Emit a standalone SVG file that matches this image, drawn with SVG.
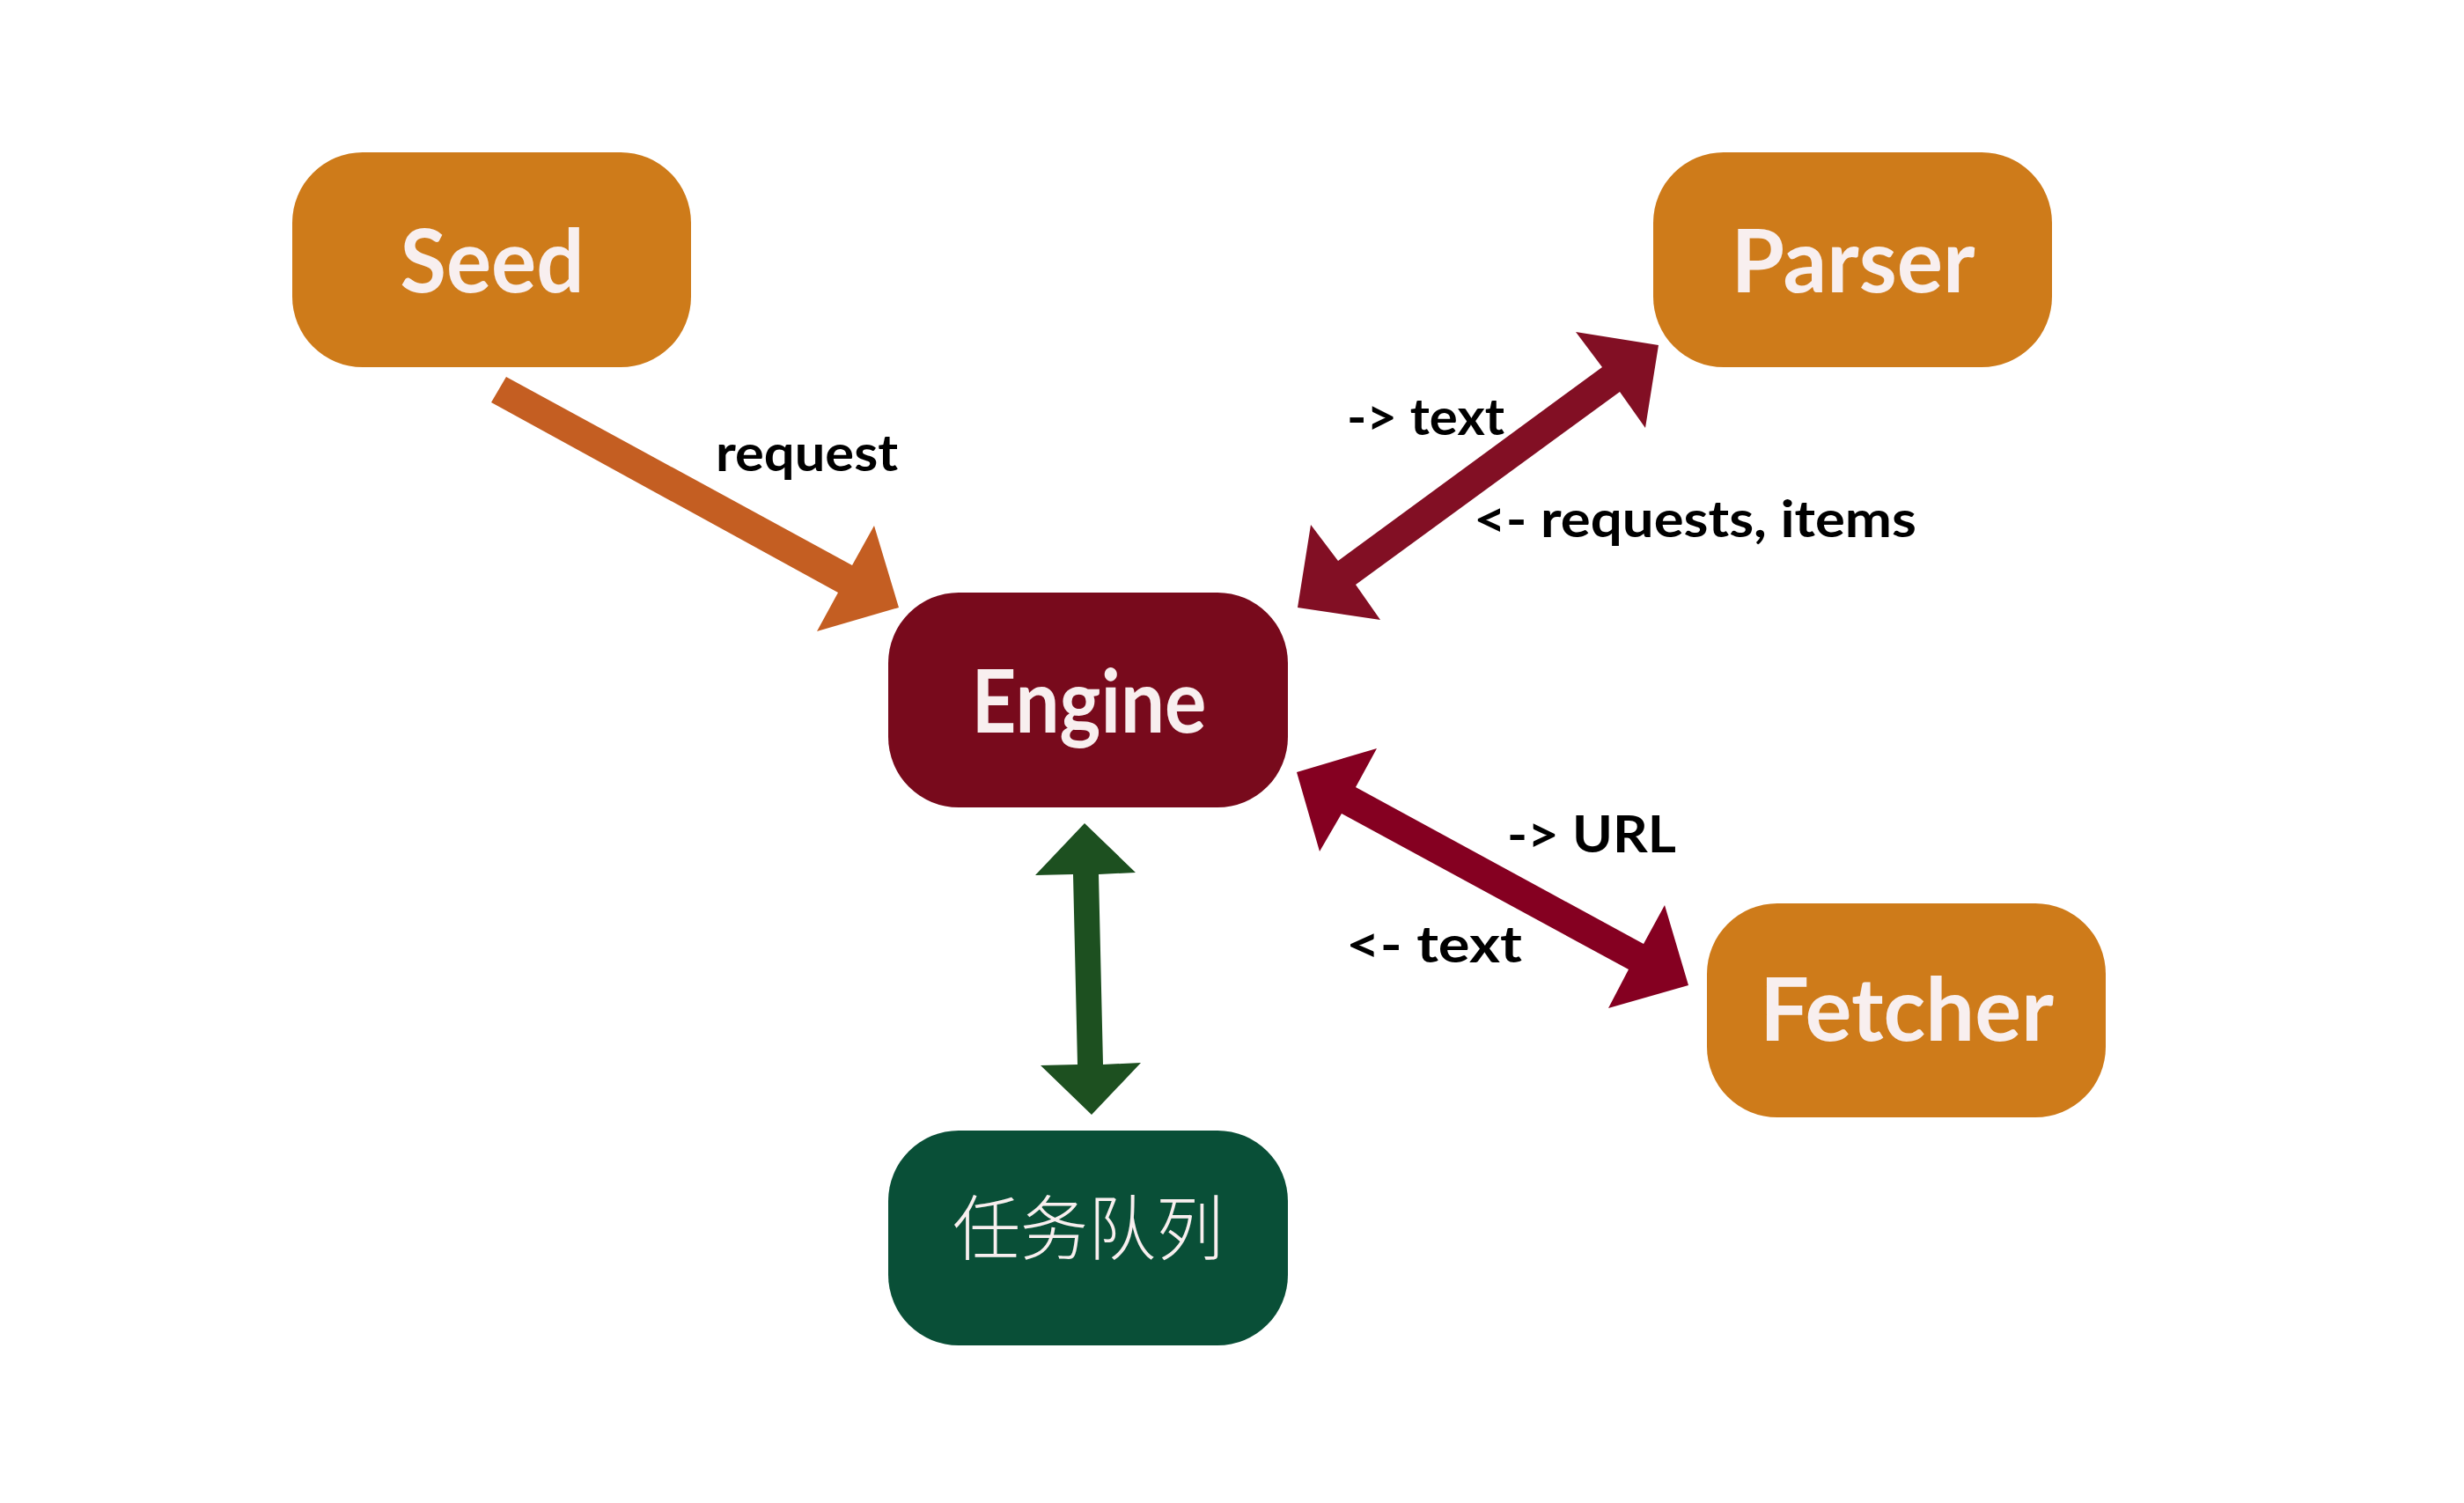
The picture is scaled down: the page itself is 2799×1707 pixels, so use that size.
<svg xmlns="http://www.w3.org/2000/svg" width="2799" height="1707" viewBox="0 0 2799 1707">
  <style>
    .box { stroke: none; }
    .orange { fill: #CE7B1A; }
    .engine { fill: #780A1C; }
    .queue { fill: #094F37; }
    .ntext { font-family: "Lato", "Liberation Sans", sans-serif; font-weight: 700; font-size: 100px; fill: #F8EFEF; text-anchor: middle; }
    .cjk { font-family: "Noto Sans CJK SC", "Noto Sans", sans-serif; font-weight: 300; font-size: 80px; fill: #F8EFEF; text-anchor: middle; }
    .label { font-family: "Lato", "Liberation Sans", sans-serif; font-weight: 700; font-size: 58px; fill: #000000; }
  </style>
  <rect width="2799" height="1707" fill="#FFFFFF"/>

  <g id="connectors">
    <polygon id="seed-engine" fill="#C45E22" points="575,428 968,642 993,597 1021,690 928,717 952,673 558,457"/>
    <polygon id="parser-engine" fill="#820F24" points="1884,392 1869,486 1840,445 1540,664 1568,704 1474,690 1489,596 1520,637 1820,417 1790,377"/>
    <polygon id="engine-fetcher" fill="#850021" points="1473,877 1564,850 1540,894 1867,1072 1891,1028 1918,1119 1827,1145 1850,1101 1524,924 1499,967"/>
    <polygon id="engine-queue" fill="#1D5020" points="1232,935 1290,991 1248,993 1253,1209 1296,1207 1240,1266 1182,1210 1224,1209 1219,993 1176,994"/>
    <text class="label" x="813" y="535" textLength="207" lengthAdjust="spacingAndGlyphs">request</text>
    <text class="label" x="1530" y="494" textLength="179" lengthAdjust="spacingAndGlyphs">-&gt; text</text>
    <text class="label" x="1674" y="610" textLength="503" lengthAdjust="spacingAndGlyphs">&lt;- requests, items</text>
    <text class="label" x="1712" y="968" textLength="192" lengthAdjust="spacingAndGlyphs">-&gt; URL</text>
    <text class="label" x="1529" y="1093" textLength="200" lengthAdjust="spacingAndGlyphs">&lt;- text</text>
  </g>

  <g id="seed">
    <rect class="box orange" x="332" y="173" width="453" height="244" rx="80" ry="80"/>
    <text class="ntext" x="559" y="332" textLength="209" lengthAdjust="spacingAndGlyphs">Seed</text>
  </g>
  <g id="parser">
    <rect class="box orange" x="1878" y="173" width="453" height="244" rx="80" ry="80"/>
    <text class="ntext" x="2105" y="332" textLength="277" lengthAdjust="spacingAndGlyphs">Parser</text>
  </g>
  <g id="engine">
    <rect class="box engine" x="1009" y="673" width="454" height="244" rx="80" ry="80"/>
    <text class="ntext" x="1237" y="832" textLength="267" lengthAdjust="spacingAndGlyphs">Engine</text>
  </g>
  <g id="fetcher">
    <rect class="box orange" x="1939" y="1026" width="453" height="243" rx="80" ry="80"/>
    <text class="ntext" x="2166" y="1182" textLength="334" lengthAdjust="spacingAndGlyphs">Fetcher</text>
  </g>
  <g id="queue">
    <rect class="box queue" x="1009" y="1284" width="454" height="244" rx="80" ry="80"/>
    <text class="cjk" x="1236" y="1424" textLength="308" lengthAdjust="spacingAndGlyphs">任务队列</text>
  </g>
</svg>
